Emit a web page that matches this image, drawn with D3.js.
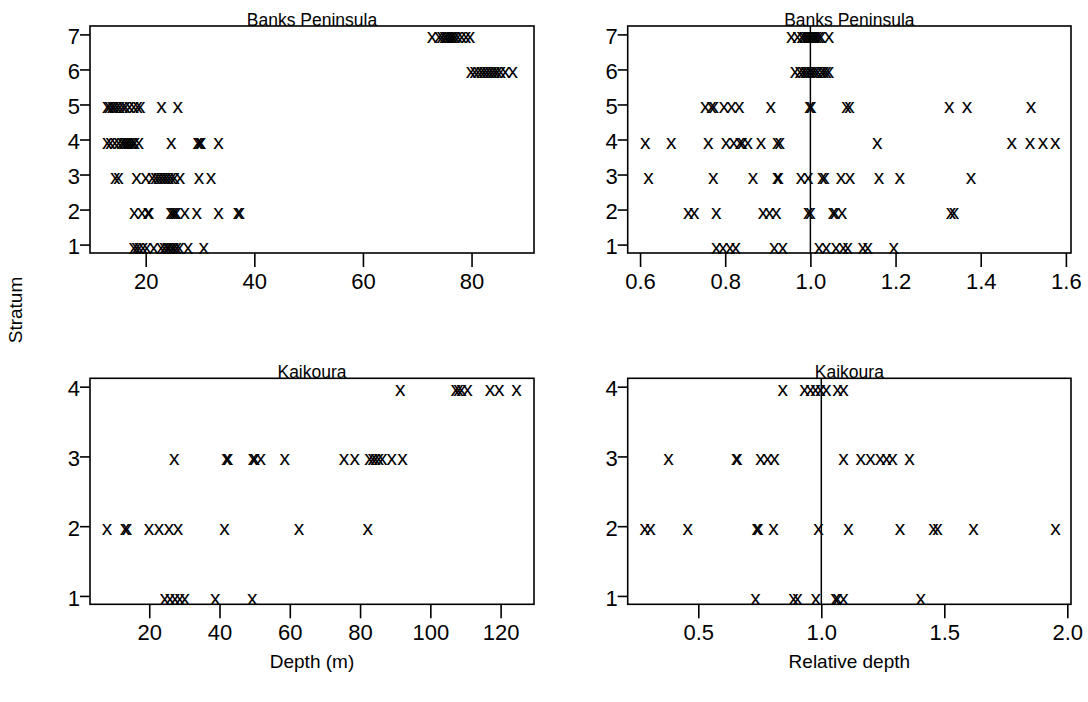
<!DOCTYPE html>
<html>
<head>
<meta charset="utf-8">
<script src="https://cdn.jsdelivr.net/npm/d3@7"></script>
<style>
  html, body { margin: 0; padding: 0; background: #fff; }
  svg { display: block; }
  text { font-family: "Liberation Sans", Arial, sans-serif; fill: #000; }
</style>
</head>
<body>
<svg id="chart" width="1088" height="702"></svg>
<script>
// Strata on the vertical axis
const banksStrata = [1, 2, 3, 4, 5, 6, 7];
const kaikouraStrata = [1, 2, 3, 4];

// Banks Peninsula: depth (m) of each site, one list per stratum (1..7)
const banksDepth = [
  [17.8, 18.3, 18.8, 19.5, 20.2, 21.5, 22.8, 23.4, 23.9, 24.3, 24.8, 25.2, 25.7, 26.2, 27.8, 30.7],
  [17.9, 19.3, 20.4, 20.6, 24.6, 25.0, 25.3, 25.6, 27.2, 29.4, 33.4, 37.0, 37.3],
  [14.4, 15.0, 18.3, 20.0, 21.2, 21.8, 22.3, 22.8, 23.3, 23.8, 24.3, 24.8, 25.3, 26.3, 29.8, 32.0],
  [12.9, 13.5, 14.3, 15.0, 15.6, 16.0, 16.4, 16.8, 17.2, 17.6, 18.0, 18.7, 24.7, 29.6, 29.9, 30.2, 33.4],
  [12.9, 13.3, 13.8, 14.2, 14.7, 15.2, 15.8, 16.3, 17.0, 17.8, 18.5, 19.0, 22.9, 25.9],
  [79.9, 80.6, 81.2, 81.8, 82.3, 82.8, 83.3, 83.8, 84.3, 84.8, 85.4, 86.2, 87.6],
  [72.7, 74.0, 74.5, 75.0, 75.4, 75.8, 76.2, 76.6, 77.0, 77.5, 78.2, 79.0, 79.7]
];

// Banks Peninsula: depth relative to the stratum mean
const banksRelative = [
  [0.779, 0.795, 0.811, 0.825, 0.915, 0.935, 1.02, 1.037, 1.06, 1.077, 1.088, 1.123, 1.135, 1.196],
  [0.713, 0.727, 0.779, 0.889, 0.904, 0.92, 0.995, 1.0, 1.053, 1.058, 1.074, 1.330, 1.337],
  [0.620, 0.772, 0.865, 0.922, 0.925, 0.978, 0.995, 1.028, 1.033, 1.072, 1.093, 1.161, 1.210, 1.377],
  [0.612, 0.673, 0.760, 0.802, 0.820, 0.835, 0.840, 0.853, 0.884, 0.922, 0.928, 1.157, 1.473, 1.516, 1.546, 1.575],
  [0.753, 0.768, 0.773, 0.797, 0.815, 0.833, 0.907, 0.998, 1.002, 1.085, 1.092, 1.326, 1.368, 1.518],
  [0.964, 0.975, 0.982, 0.988, 0.994, 1.0, 1.006, 1.012, 1.018, 1.026, 1.032, 1.038, 1.044],
  [0.955, 0.97, 0.98, 0.985, 0.99, 0.995, 1.0, 1.005, 1.01, 1.015, 1.02, 1.025, 1.044]
];

// Kaikoura: depth (m), one list per stratum (1..4)
const kaikouraDepth = [
  [24.4, 25.9, 27.3, 28.7, 30.1, 38.8, 49.3],
  [8.0, 13.1, 13.7, 19.9, 22.8, 25.6, 28.2, 41.4, 62.6, 82.2],
  [27.1, 42.0, 42.4, 49.5, 50.0, 51.7, 58.6, 75.4, 78.5, 82.7, 83.6, 84.4, 85.3, 86.3, 89.0, 92.1],
  [91.4, 107.2, 108.0, 108.9, 110.6, 117.0, 119.6, 124.5]
];

// Kaikoura: relative depth
const kaikouraRelative = [
  [0.732, 0.887, 0.903, 0.977, 1.058, 1.066, 1.09, 1.404],
  [0.282, 0.306, 0.457, 0.738, 0.744, 0.806, 0.989, 1.111, 1.320, 1.456, 1.472, 1.619, 1.952],
  [0.379, 0.654, 0.658, 0.753, 0.781, 0.810, 1.09, 1.160, 1.20, 1.24, 1.265, 1.289, 1.359],
  [0.843, 0.932, 0.956, 0.976, 0.997, 1.02, 1.066, 1.09]
];

// Tick values and axis ranges
const banksDepthTicks = [20, 40, 60, 80];
const banksRelTicks = [0.6, 0.8, 1.0, 1.2, 1.4, 1.6];
const kaikouraDepthTicks = [20, 40, 60, 80, 100, 120];
const kaikouraRelTicks = [0.5, 1.0, 1.5, 2.0];

const banksDepthRange = [9.74, 91.5];
const banksRelRange = [0.571, 1.612];
const kaikouraDepthRange = [3.14, 129.5];
const kaikouraRelRange = [0.213, 2.015];

const titles = ["Banks Peninsula", "Kaikoura"];
const xTitles = ["Depth (m)", "Relative depth"];
const yTitle = "Stratum";

const svg = d3.select("#chart");

const colX = [[90, 534], [627.7, 1071]];
const rowY = [[26, 253], [378.3, 604.3]];

const panels = [
  { row: 0, col: 0, title: titles[0], data: banksDepth, strata: banksStrata, xr: banksDepthRange, ticks: banksDepthTicks, fmt: d3.format("d"), ref: null },
  { row: 0, col: 1, title: titles[0], data: banksRelative, strata: banksStrata, xr: banksRelRange, ticks: banksRelTicks, fmt: d3.format(".1f"), ref: 1 },
  { row: 1, col: 0, title: titles[1], data: kaikouraDepth, strata: kaikouraStrata, xr: kaikouraDepthRange, ticks: kaikouraDepthTicks, fmt: d3.format("d"), ref: null },
  { row: 1, col: 1, title: titles[1], data: kaikouraRelative, strata: kaikouraStrata, xr: kaikouraRelRange, ticks: kaikouraRelTicks, fmt: d3.format(".1f"), ref: 1 }
];

const tickFont = 22;
const markFont = 21;
const titleFont = 17.5;
const labFont = 19;

panels.forEach(p => {
  const [x0, x1] = colX[p.col];
  const [y0, y1] = rowY[p.row];
  const n = p.strata.length;
  const pad = (n - 1) * 0.04;
  const x = d3.scaleLinear().domain(p.xr).range([x0, x1]);
  const y = d3.scaleLinear().domain([1 - pad, n + pad]).range([y1, y0]);

  const g = svg.append("g");

  // reference line at relative depth 1
  if (p.ref !== null) {
    g.append("line")
      .attr("x1", x(p.ref)).attr("x2", x(p.ref))
      .attr("y1", y0).attr("y2", y1)
      .attr("stroke", "#000").attr("stroke-width", 1.5);
  }

  // points, drawn as "x" characters
  const pts = [];
  p.data.forEach((vals, i) => vals.forEach(v => pts.push({ v, s: p.strata[i] })));
  g.selectAll("text.pt").data(pts).join("text")
    .attr("class", "pt")
    .attr("x", d => x(d.v))
    .attr("y", d => y(d.s) + 9)
    .attr("text-anchor", "middle")
    .attr("font-size", markFont)
    .text("x");

  // frame
  g.append("rect")
    .attr("x", x0).attr("y", y0)
    .attr("width", x1 - x0).attr("height", y1 - y0)
    .attr("fill", "none").attr("stroke", "#000").attr("stroke-width", 1.6);

  // left axis
  const ya = g.append("g").attr("transform", `translate(${x0},0)`)
    .call(d3.axisLeft(y).tickValues(p.strata).tickFormat(d3.format("d")).tickSize(10).tickPadding(0).tickSizeOuter(0));
  ya.select(".domain").remove();
  ya.selectAll(".tick line").attr("stroke", "#000").attr("stroke-width", 1.6);
  ya.selectAll(".tick text").attr("font-size", tickFont).attr("font-family", null).attr("dy", "0.42em");

  // bottom axis
  const xa = g.append("g").attr("transform", `translate(0,${y1})`)
    .call(d3.axisBottom(x).tickValues(p.ticks).tickFormat(p.fmt).tickSize(14).tickPadding(6).tickSizeOuter(0));
  xa.select(".domain").remove();
  xa.selectAll(".tick line").attr("stroke", "#000").attr("stroke-width", 1.6);
  xa.selectAll(".tick text").attr("font-size", tickFont).attr("font-family", null);

  // panel title, sitting on the top of the frame
  g.append("text")
    .attr("x", (x0 + x1) / 2).attr("y", y0 - 0.5)
    .attr("text-anchor", "middle").attr("font-size", titleFont)
    .text(p.title);

  if (p.row === 1) {
    g.append("text")
      .attr("x", (x0 + x1) / 2).attr("y", 668)
      .attr("text-anchor", "middle").attr("font-size", labFont)
      .text(xTitles[p.col]);
  }
});

svg.append("text")
  .attr("transform", "translate(22,310) rotate(-90)")
  .attr("text-anchor", "middle").attr("font-size", labFont)
  .text(yTitle);
</script>
</body>
</html>
